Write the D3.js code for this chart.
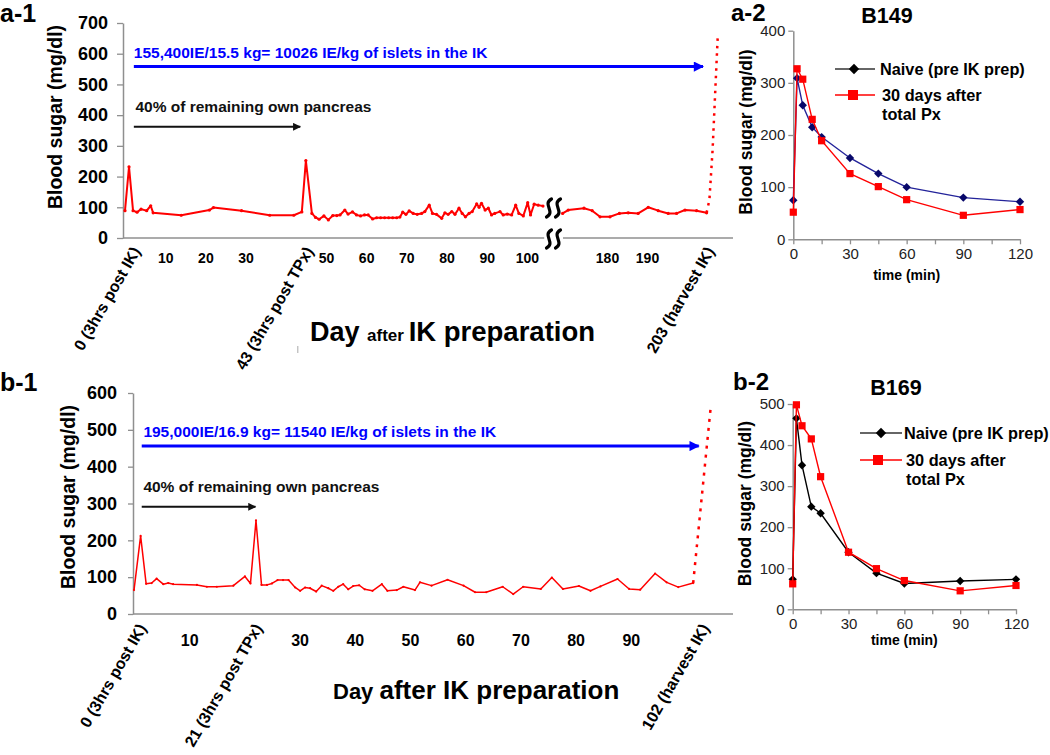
<!DOCTYPE html>
<html><head><meta charset="utf-8">
<script src="https://cdn.jsdelivr.net/npm/d3@7"></script>
<style>
body{margin:0;background:#fff;}
svg{display:block;font-family:"Liberation Sans",Arial,Helvetica,sans-serif;}
</style></head><body>
<svg id="c" width="1050" height="755"></svg>
<script>
// ---------------- DATA ----------------
// a-1 (B149 daily blood sugar)
const a1YTicks = [0,100,200,300,400,500,600,700];
const a1XTicks = [10,20,30,50,60,70,80,90,100,180,190];
const a1EventDays = [0,43,203];
const a1EventLabels = ["0 (3hrs post IK)","43 (3hrs post TPx)","203 (harvest IK)"];
const a1LeftDays = [0,1,2,3,4,5.4,6.4,7,14,21,22,29,36,42,44,45,46.5,47.4,48.3,49.5,50.6,51.7,52.7,53.5,54.7,55.5,56.6,57.6,58.6,59.6,60.5,61.6,62.6,63.6,64.6,65.6,66.6,67.6,68.4,69.1,69.9,70.7,71.7,72.7,73.8,74.6,75.7,76.5,77.5,78.8,79.6,80.4,81.3,82.1,83.1,83.9,84.7,85.6,86.4,87.5,88.1,88.7,89.6,90.4,91.2,92,93.3,94.1,95.1,96.2,97.2,98,99.1,100.2,100.9,101.8,102.8,104];
const a1LeftValues = [89,232,89,84,94,89,105,82,74,91,99,89,74,74,85,252,80,67,61,72,59,73,73,75,91,78,85,75,72,75,75,62,66,66,66,66,66,66,68,84,77,88,80,77,80,86,107,80,77,64,82,77,86,77,97,80,69,80,86,111,100,113,91,97,75,80,86,75,78,75,107,80,72,115,75,110,107,104];
const a1RightDays = [168.9,170.3,174.25,176.3,178.25,180.75,183.1,185.3,187.8,190.3,192.8,195.3,197.4,199.5,202.4,204.9];
const a1RightValues = [80,91,97,89,69,69,80,82,80,100,89,80,80,91,89,82];
const a1HarvestDays = [204.9,205.6,206.4,207.7];
const a1HarvestValues = [82,124,287,661];
const a1IsletText = "155,400IE/15.5 kg= 10026 IE/kg of islets in the IK";
const pancreasText = "40% of remaining own pancreas";

// b-1 (B169 daily blood sugar)
const b1YTicks = [0,100,200,300,400,500,600];
const b1XTicks = [10,30,40,50,60,70,80,90];
const b1EventDays = [0,21,102];
const b1EventLabels = ["0 (3hrs post IK)","21 (3hrs post TPx)","102 (harvest IK)"];
const b1Days = [0,1.2,2.2,3.2,4.1,5.3,6.2,7.1,11.4,13.2,15,18,20.1,21.1,22.1,23.1,24.1,25,26,27,28,29.2,30.1,31,31.9,33,34,35.2,36.1,37,37.9,38.8,39.7,40.8,41.8,43.2,44.9,45.9,47.6,48.8,50.9,51.8,53.9,56.8,59.7,61.8,63.8,66.8,68.7,70.5,73.7,75.7,77.7,80.6,82.7,84.5,87.6,89.7,91.7,94.4,96.5,98.6,101.3];
const b1Values = [65,212,82,84,96,81,84,81,79,74,74,77,102,83,254,79,79,83,92,92,92,72,63,72,70,61,77,70,63,74,81,67,76,78,67,63,81,63,65,74,65,86,77,93,77,59,59,74,54,74,68,99,68,76,63,75,95,68,66,110,86,73,84];
const b1HarvestDays = [101.3,104.5];
const b1HarvestValues = [84,565];
const b1IsletText = "195,000IE/16.9 kg= 11540 IE/kg of islets in the IK";

// a-2 / b-2 (IVGTT)
const ivgttMinutes = [0,2,5,10,15,30,45,60,90,120];
const a2Naive = [75,309,257,215,196,156,126,100,80,72];
const a2AfterPx = [52,327,307,230,189,126,101,76,46,57];
const b2Naive = [73,465,351,250,234,139,88,63,69,73];
const b2AfterPx = [62,498,447,415,323,139,99,70,45,58];
const a2YTicks = [0,100,200,300,400];
const b2YTicks = [0,100,200,300,400,500];
const timeTicks = [0,15,30,45,60,75,90,105,120];
const legendNaive = "Naive (pre IK prep)";
const legendAfter = ["30 days after","total Px"];

// ---------------- DRAW ----------------
const svg = d3.select("#c");
const RED = "#ff0000", BLUE = "#0000ff", AXIS = "#8f8f8f";

svg.append("defs").html(`
 <marker id="arrBlue" viewBox="0 0 10 10" refX="9" refY="5" markerWidth="4" markerHeight="3.4" orient="auto" markerUnits="strokeWidth"><path d="M0,0 L10,5 L0,10 Z" fill="${BLUE}"/></marker>
 <marker id="arrBlack" viewBox="0 0 10 10" refX="9" refY="5" markerWidth="5" markerHeight="4" orient="auto" markerUnits="strokeWidth"><path d="M0,0 L10,5 L0,10 Z" fill="#111"/></marker>`);

function styleAxis(g, size, weight, color) {
  g.select(".domain").attr("stroke", AXIS).attr("stroke-width", 1.5);
  g.selectAll(".tick line").attr("stroke", AXIS).attr("stroke-width", 1.3);
  g.selectAll(".tick text").attr("font-size", size).attr("font-weight", weight).attr("fill", color)
    .attr("font-family", '"Liberation Sans", Arial, sans-serif');
}
function panelLabel(x, y, t, size) {
  svg.append("text").attr("x", x).attr("y", y).attr("font-size", size || 25).attr("font-weight", "bold").text(t);
}
function yTitle(cx, cy, size, t) {
  svg.append("text").attr("transform", `translate(${cx},${cy}) rotate(-90)`).attr("text-anchor", "middle")
    .attr("dy", "0.35em").attr("font-size", size).attr("font-weight", "bold").text(t);
}
function squiggle(cx, cy) {
  svg.append("path").attr("d", `M${cx+2.5},${cy-9} C${cx-7},${cy-4} ${cx+7},${cy+4} ${cx-2.5},${cy+9}`)
    .attr("fill", "none").attr("stroke", "#000").attr("stroke-width", 3.2).attr("stroke-linecap", "round");
}

// ===== a-1 =====
{
  const x = d3.scaleLinear().domain([0,104.5,167,210]).range([125,545,555,727]);
  const y = d3.scaleLinear().domain([0,700]).range([238,23]);
  panelLabel(0, 22, "a-1");
  const gy = svg.append("g").attr("transform","translate(123,0)")
    .call(d3.axisLeft(y).tickValues(a1YTicks).tickSize(6).tickSizeOuter(0).tickPadding(9));
  styleAxis(gy, 18, "bold", "#000");
  yTitle(55, 117, 19.5, "Blood sugar (mg/dl)");
  // x axis line with break
  svg.append("line").attr("x1",123).attr("x2",x(104.3)).attr("y1",y(0)).attr("y2",y(0)).attr("stroke",AXIS).attr("stroke-width",1.5);
  svg.append("line").attr("x1",x(169)).attr("x2",733).attr("y1",y(0)).attr("y2",y(0)).attr("stroke",AXIS).attr("stroke-width",1.5);
  const gx = svg.append("g").attr("transform",`translate(0,${y(0)})`)
    .call(d3.axisBottom(x).tickValues(a1XTicks).tickSize(0).tickPadding(15));
  gx.select(".domain").remove();
  styleAxis(gx, 14, "bold", "#000");
  a1EventDays.forEach((d,i) => {
    svg.append("text").attr("transform", `translate(${x(d)+16},251) rotate(-60)`).attr("text-anchor","end")
      .attr("font-size",16).attr("font-weight","bold").text(a1EventLabels[i]);
  });
  // small stray tick below the TPx label (as in the reference)
  svg.append("line").attr("x1",x(43)).attr("x2",x(43)).attr("y1",346).attr("y2",353).attr("stroke","#aaa").attr("stroke-width",1);
  const t = svg.append("text").attr("x",310).attr("y",341).attr("font-weight","bold");
  t.append("tspan").attr("font-size",27).text("Day ");
  t.append("tspan").attr("font-size",17).text("after ");
  t.append("tspan").attr("font-size",27.5).text("IK preparation");
  // annotations
  svg.append("text").attr("x",x(2.2)).attr("y",y(586)).attr("font-size",15.5).attr("font-weight","bold").attr("fill",BLUE).text(a1IsletText);
  svg.append("line").attr("x1",x(2.2)).attr("x2",x(204)).attr("y1",y(558)).attr("y2",y(558)).attr("stroke",BLUE).attr("stroke-width",3).attr("marker-end","url(#arrBlue)");
  svg.append("text").attr("x",x(2.6)).attr("y",y(410)).attr("font-size",15.5).attr("font-weight","bold").attr("fill","#111").text(pancreasText);
  svg.append("line").attr("x1",x(2.2)).attr("x2",x(43.6)).attr("y1",y(362)).attr("y2",y(362)).attr("stroke","#111").attr("stroke-width",2).attr("marker-end","url(#arrBlack)");
  // series
  const line = d3.line().x(d=>x(d[0])).y(d=>y(d[1]));
  [d3.zip(a1LeftDays,a1LeftValues), d3.zip(a1RightDays,a1RightValues)].forEach(s => {
    svg.append("path").attr("d", line(s)).attr("fill","none").attr("stroke",RED).attr("stroke-width",2).attr("stroke-linejoin","round");
    svg.append("g").selectAll("circle").data(s).join("circle").attr("cx",d=>x(d[0])).attr("cy",d=>y(d[1])).attr("r",1.6).attr("fill",RED);
  });
  svg.append("path").attr("d", line(d3.zip(a1HarvestDays,a1HarvestValues))).attr("fill","none").attr("stroke",RED)
    .attr("stroke-width",2.5).attr("stroke-dasharray","2.5,5");
  // breaks
  squiggle(549, 208); squiggle(558, 208);
  squiggle(549, 239); squiggle(558, 239);
}

// ===== b-1 =====
{
  const x = d3.scaleLinear().domain([0,105]).range([134,134+5.52*105]);
  const y = d3.scaleLinear().domain([0,600]).range([614,393]);
  panelLabel(0, 391, "b-1");
  const gy = svg.append("g").attr("transform","translate(133,0)")
    .call(d3.axisLeft(y).tickValues(b1YTicks).tickSize(5).tickSizeOuter(0).tickPadding(11));
  styleAxis(gy, 18, "bold", "#000");
  yTitle(68, 497, 19.5, "Blood sugar (mg/dl)");
  svg.append("line").attr("x1",133).attr("x2",733).attr("y1",y(0)).attr("y2",y(0)).attr("stroke",AXIS).attr("stroke-width",1.5);
  const gx = svg.append("g").attr("transform",`translate(0,${y(0)})`)
    .call(d3.axisBottom(x).tickValues(b1XTicks).tickSize(0).tickPadding(21));
  gx.select(".domain").remove();
  styleAxis(gx, 16, "bold", "#000");
  b1EventDays.forEach((d,i) => {
    svg.append("text").attr("transform", `translate(${x(d)+13},628) rotate(-60)`).attr("text-anchor","end")
      .attr("font-size",16).attr("font-weight","bold").text(b1EventLabels[i]);
  });
  const t = svg.append("text").attr("x",333).attr("y",699).attr("font-weight","bold");
  t.append("tspan").attr("font-size",22).text("Day ");
  t.append("tspan").attr("font-size",26).text("after IK preparation");
  svg.append("text").attr("x",x(1.7)).attr("y",y(480)).attr("font-size",15.5).attr("font-weight","bold").attr("fill",BLUE).text(b1IsletText);
  svg.append("line").attr("x1",x(1.4)).attr("x2",x(102.3)).attr("y1",y(456)).attr("y2",y(456)).attr("stroke",BLUE).attr("stroke-width",3).attr("marker-end","url(#arrBlue)");
  svg.append("text").attr("x",x(1.7)).attr("y",y(332)).attr("font-size",15.5).attr("font-weight","bold").attr("fill","#111").text(pancreasText);
  svg.append("line").attr("x1",x(1.4)).attr("x2",x(22)).attr("y1",y(291)).attr("y2",y(291)).attr("stroke","#111").attr("stroke-width",2).attr("marker-end","url(#arrBlack)");
  const line = d3.line().x(d=>x(d[0])).y(d=>y(d[1]));
  const s = d3.zip(b1Days,b1Values);
  svg.append("path").attr("d", line(s)).attr("fill","none").attr("stroke",RED).attr("stroke-width",1.5).attr("stroke-linejoin","round");
  svg.append("g").selectAll("circle").data(s).join("circle").attr("cx",d=>x(d[0])).attr("cy",d=>y(d[1])).attr("r",1.1).attr("fill",RED);
  svg.append("path").attr("d", line(d3.zip(b1HarvestDays,b1HarvestValues))).attr("fill","none").attr("stroke",RED)
    .attr("stroke-width",2.5).attr("stroke-dasharray","3,6");
}

// ===== IVGTT panels =====
function ivgtt(opts) {
  const x = d3.scaleLinear().domain([0,120]).range(opts.xr);
  const y = d3.scaleLinear().domain([0, opts.ymax]).range(opts.yr);
  panelLabel(opts.lx, opts.ly, opts.label, 24);
  svg.append("text").attr("x",opts.tx).attr("y",opts.ty).attr("text-anchor","middle").attr("font-size",21.5).attr("font-weight","bold").text(opts.title);
  const gy = svg.append("g").attr("transform",`translate(${opts.xr[0]},0)`)
    .call(d3.axisLeft(y).tickValues(opts.yticks).tickSize(5).tickSizeOuter(0).tickPadding(3));
  styleAxis(gy, 15, "normal", "#222");
  const gx = svg.append("g").attr("transform",`translate(0,${opts.yr[0]})`)
    .call(d3.axisBottom(x).tickValues(timeTicks).tickSize(5).tickSizeOuter(0).tickPadding(4).tickFormat(d => d%30===0 ? d : ""));
  styleAxis(gx, 15, "normal", "#222");
  yTitle(opts.ytx, (opts.yr[0]+opts.yr[1])/2 - 3, 17.5, "Blood sugar (mg/dl)");
  svg.append("text").attr("x",(opts.xr[0]+opts.xr[1])/2).attr("y",opts.yr[0]+opts.xtOff).attr("text-anchor","middle")
    .attr("font-size",14).attr("font-weight","bold").text("time (min)");
  const line = d3.line().x(d=>x(d[0])).y(d=>y(d[1]));
  const naive = d3.zip(ivgttMinutes, opts.naive), post = d3.zip(ivgttMinutes, opts.post);
  const dia = r => `M0,${-r}L${r},0L0,${r}L${-r},0Z`;
  svg.append("path").attr("d",line(naive)).attr("fill","none").attr("stroke",opts.naiveLine).attr("stroke-width",1.4);
  svg.append("g").selectAll("path").data(naive).join("path").attr("d",dia(4.2))
    .attr("transform",d=>`translate(${x(d[0])},${y(d[1])})`).attr("fill",opts.naiveMark);
  svg.append("path").attr("d",line(post)).attr("fill","none").attr("stroke",RED).attr("stroke-width",1.4);
  svg.append("g").selectAll("rect").data(post).join("rect").attr("x",d=>x(d[0])-3.6).attr("y",d=>y(d[1])-3.6)
    .attr("width",7.2).attr("height",7.2).attr("fill",RED);
  // legend
  const L = opts.leg;
  svg.append("line").attr("x1",L.x1).attr("x2",L.x2).attr("y1",L.y1).attr("y2",L.y1).attr("stroke","#333").attr("stroke-width",1.5);
  svg.append("path").attr("d",dia(5.2)).attr("transform",`translate(${L.m1},${L.y1})`).attr("fill","#000");
  svg.append("text").attr("x",L.tx).attr("y",L.y1+6).attr("font-size",16.3).attr("font-weight","bold").text(legendNaive);
  svg.append("line").attr("x1",L.x1).attr("x2",L.x2).attr("y1",L.y2).attr("y2",L.y2).attr("stroke",RED).attr("stroke-width",1.5);
  svg.append("rect").attr("x",L.m2-5).attr("y",L.y2-5).attr("width",10).attr("height",10).attr("fill",RED);
  legendAfter.forEach((s,i) => svg.append("text").attr("x",L.tx+2).attr("y",L.y2+6+i*18.5).attr("font-size",16.3).attr("font-weight","bold").text(s));
}
ivgtt({label:"a-2", lx:731, ly:21, title:"B149", tx:887, ty:23, xr:[793.3,1020], yr:[239.3,30.7], ymax:400,
  yticks:a2YTicks, naive:a2Naive, post:a2AfterPx, naiveLine:"#23239a", naiveMark:"#08086a", ytx:746, xtOff:41,
  leg:{x1:835,x2:875,m1:854,y1:69,y2:95,m2:853,tx:880}});
ivgtt({label:"b-2", lx:733, ly:390, title:"B169", tx:896, ty:395, xr:[792.7,1016], yr:[609.3,404], ymax:500,
  yticks:b2YTicks, naive:b2Naive, post:b2AfterPx, naiveLine:"#000", naiveMark:"#000", ytx:745, xtOff:36,
  leg:{x1:860,x2:902,m1:881,y1:433,y2:460,m2:878,tx:904}});
</script>
</body></html>
